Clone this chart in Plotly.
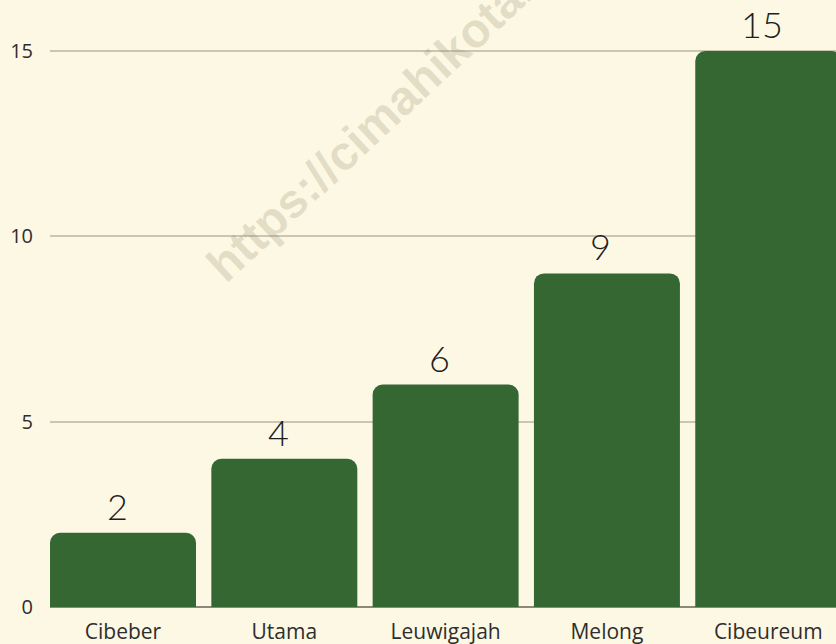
import plotly.graph_objects as go

categories = ["Cibeber", "Utama", "Leuwigajah", "Melong", "Cibeureum"]
values = [2, 4, 6, 9, 15]
y_ticks = [0, 5, 10, 15]
watermark = "https://cimahikota.go.id"

BG = "#FDF8E4"
BAR = "#356732"

fig = go.Figure(
    go.Bar(
        x=categories,
        y=values,
        marker=dict(color=BAR, line=dict(width=0)),
        hoverinfo="x+y",
    )
)

annotations = [
    dict(
        x=c,
        y=v,
        xref="x",
        yref="y",
        text=str(v),
        showarrow=False,
        xanchor="center",
        yanchor="bottom",
        yshift=3,
        xshift=-6,
        font=dict(family="Lato", size=36, color="#1e1e1e", weight=300),
    )
    for c, v in zip(categories, values)
]

annotations.append(
    dict(
        text=watermark,
        xref="paper",
        yref="paper",
        x=0.46,
        y=0.855,
        xanchor="center",
        yanchor="middle",
        showarrow=False,
        textangle=-43,
        font=dict(family="Liberation Sans", size=48, color="rgba(140,125,95,0.22)", weight="bold"),
    )
)

fig.update_layout(
    width=836,
    height=644,
    margin=dict(l=50, r=0, t=0, b=37),
    paper_bgcolor=BG,
    plot_bgcolor=BG,
    bargap=0.095,
    barcornerradius=10,
    showlegend=False,
    xaxis=dict(
        range=[-0.4526, 4.42],
        showgrid=False,
        showline=False,
        zeroline=False,
        ticks="",
        ticklabelstandoff=10,
        tickfont=dict(family="Open Sans", size=21, color="#2e2e2e"),
    ),
    yaxis=dict(
        range=[0, 16.375],
        tickvals=y_ticks,
        showgrid=True,
        gridcolor="#C9C6B1",
        gridwidth=1.5,
        zeroline=True,
        zerolinecolor="#8C897C",
        zerolinewidth=2,
        showline=False,
        ticks="",
        ticklabelstandoff=16,
        tickfont=dict(family="Open Sans", size=20, color="#2e2e2e"),
    ),
    annotations=annotations,
)

fig.write_html(
    "out.html",
    config={"displayModeBar": False},
    post_script="document.body.style.margin='0';document.body.style.overflow='hidden';",
)
